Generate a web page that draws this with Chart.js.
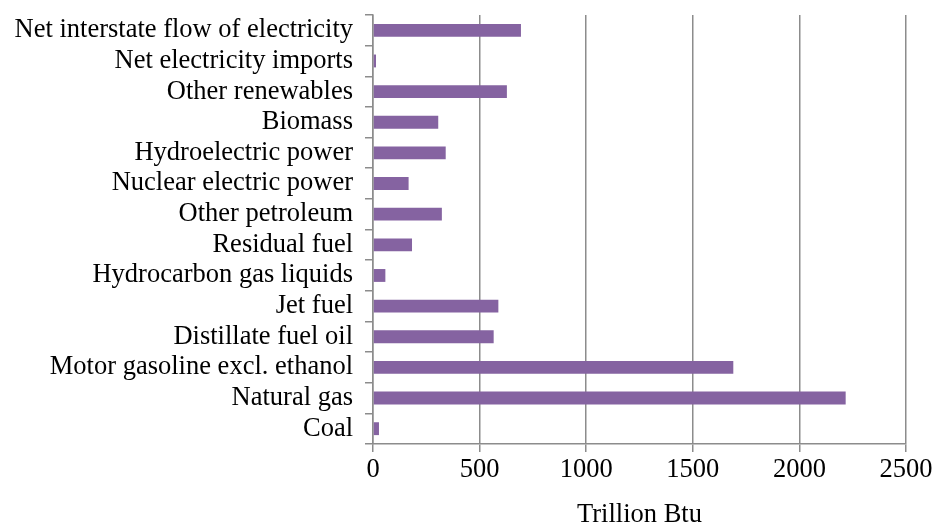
<!DOCTYPE html>
<html>
<head>
<meta charset="utf-8">
<script src="https://cdn.jsdelivr.net/npm/chart.js@4"></script>
<style>
  html, body { margin: 0; padding: 0; background: #fff; }
  #wrap { width: 938px; height: 525px; }
</style>
</head>
<body>
<div id="wrap"><canvas id="chart"></canvas></div>
<script>
const categories = [
    'Net interstate flow of electricity',
    'Net electricity imports',
    'Other renewables',
    'Biomass',
    'Hydroelectric power',
    'Nuclear electric power',
    'Other petroleum',
    'Residual fuel',
    'Hydrocarbon gas liquids',
    'Jet fuel',
    'Distillate fuel oil',
    'Motor gasoline excl. ethanol',
    'Natural gas',
    'Coal'
];
const values = [694, 14, 628, 306, 341, 167, 323, 183, 58, 588, 566, 1690, 2217, 28];
const xTicks = [0, 500, 1000, 1500, 2000, 2500];

(function(){
    const ctx = document.getElementById('chart').getContext('2d');
    const font = { family: '"Liberation Serif", "Times New Roman", serif', size: 26.5 };
    new Chart(ctx, {
        type: 'bar',
        data: { labels: categories, datasets: [{ data: values, backgroundColor: '#8563a1', barPercentage: 0.42, categoryPercentage: 1 }] },
        options: {
            indexAxis: 'y',
            responsive: true,
            maintainAspectRatio: false,
            animation: false,
            layout: { padding: { left: 0, right: 32, top: 15, bottom: 0 } },
            plugins: { legend: { display: false }, tooltip: { enabled: false } },
            scales: {
                x: {
                    min: 0, max: 2500,
                    afterBuildTicks: axis => { axis.ticks = xTicks.map(v => ({ value: v })); },
                    afterFit: axis => { axis.height = 81; },
                    grid: { color: '#8c8c8c', lineWidth: 1.5, tickLength: 8 },
                    border: { color: '#8c8c8c', width: 1.5 },
                    ticks: { color: '#000', font: font, padding: 2, callback: v => String(v) },
                    title: { display: true, text: 'Trillion Btu', color: '#000', font: font, padding: { top: 8, bottom: -6 } }
                },
                y: {
                    afterFit: axis => { axis.width = 373; axis.paddingTop = 0; axis.paddingBottom = 0; },
                    grid: { offset: true, drawOnChartArea: false, color: '#8c8c8c', lineWidth: 1.5, tickLength: 8 },
                    border: { color: '#8c8c8c', width: 1.5 },
                    ticks: { color: '#000', font: font, padding: 12, autoSkip: false }
                }
            }
        }
    });
})();
</script>
</body>
</html>
